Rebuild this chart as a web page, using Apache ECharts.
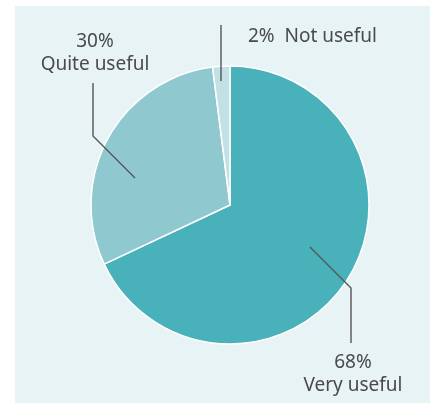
<!DOCTYPE html>
<html><head><meta charset="utf-8">
<script src="https://cdn.jsdelivr.net/npm/echarts@6/dist/echarts.min.js"></script>
<style>html,body{margin:0;padding:0;background:#fff}#c{width:430px;height:403px}</style>
</head><body><div id="c"></div>
<script>
const categories = ['Very useful', 'Quite useful', 'Not useful'];
const values = [68, 30, 2];
const colors = ['#49b1ba', '#8fc8cf', '#c2e1e5'];

const CX = 230, CY = 205, R = 139;
// leader line / label offsets relative to the pie centre
const layouts = [
  { line: [[80, 42], [121, 83], [121, 138]], x: 123, y: 146, align: 'center' },
  { line: [[-95, -27], [-137, -69], [-137, -122]], x: -135, y: -175, align: 'center' },
  { line: [[-9, -124], [-9, -150], [-9, -180]], x: 18, y: -180, align: 'left' }
];

const base = {
  type: 'pie',
  center: [CX, CY],
  radius: R,
  startAngle: 90,
  clockwise: true,
  animation: false
};

const chart = echarts.init(document.getElementById('c'), null, { renderer: 'canvas' });
chart.setOption({
  backgroundColor: '#ffffff',
  animation: false,
  graphic: [{ type: 'rect', z: -10, shape: { x: 15, y: 6, width: 415, height: 397 }, style: { fill: '#e7f3f4' } }],
  series: [
    Object.assign({}, base, {
      z: 2,
      itemStyle: { borderColor: '#ffffff', borderWidth: 1.5 },
      label: { show: false },
      labelLine: { show: false },
      data: categories.map((n, i) => ({ name: n, value: values[i], itemStyle: { color: colors[i] } }))
    }),
    Object.assign({}, base, {
      z: 10,
      silent: true,
      itemStyle: { color: 'rgba(0,0,0,0)', borderWidth: 0 },
      label: {
        show: true,
        color: '#4a4a4a',
        fontFamily: 'Noto Sans',
        fontSize: 19,
        lineHeight: 23,
        overflow: 'none',
        alignTo: 'none',
        formatter: p => p.dataIndex === 2 ? p.value + '%  ' + p.name : p.value + '%\n' + p.name
      },
      labelLine: { show: true, lineStyle: { color: '#555555', width: 1.4 } },
      labelLayout: function (p) {
        const l = layouts[p.dataIndex];
        return {
          x: CX + l.x, y: CY + l.y, align: l.align, verticalAlign: 'top',
          labelLinePoints: l.line.map(pt => [CX + pt[0], CY + pt[1]])
        };
      },
      data: categories.map((n, i) => ({ name: n, value: values[i] }))
    })
  ]
});
</script></body></html>
